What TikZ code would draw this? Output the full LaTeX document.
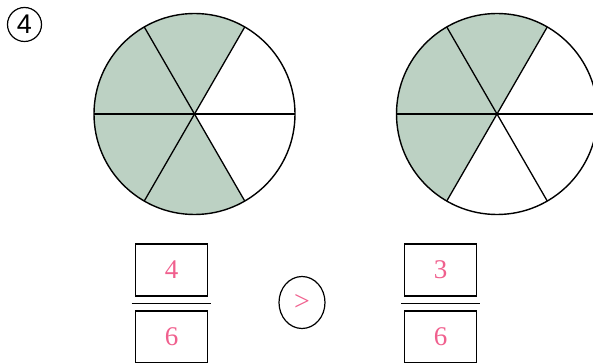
\documentclass[tikz,border=0pt]{standalone}
\usepackage{fontspec}
\setmainfont{Liberation Serif}
\newfontfamily\labelfont{Liberation Sans}
\usetikzlibrary{shapes.geometric}
\definecolor{pieshade}{HTML}{BCD1C3}
\definecolor{pinknum}{HTML}{F0608E}
\tikzset{
  x=1pt, y=-1pt,
  rim/.style={draw=black, line width=1.4pt},
  spoke/.style={draw=black, line width=1.3pt},
  numbox/.style={draw=black, line width=1.2pt, minimum width=72pt, minimum height=52pt, inner sep=0pt, text=pinknum, font=\fontsize{27}{27}\selectfont},
  barline/.style={draw=black, line width=1.5pt},
  cmp/.style={draw=black, line width=1.2pt, ellipse, minimum width=46pt, minimum height=52pt, inner sep=0pt, text=pinknum, font=\fontsize{28}{28}\selectfont},
}
\begin{document}
\begin{tikzpicture}
\useasboundingbox (0,0) rectangle (593,363);
% label
\node[circle, draw=black, line width=1.2pt, minimum size=34pt, inner sep=0pt, font=\labelfont\fontsize{27}{27}\selectfont] (lbl) at (24.5,24.5) {4};
% left pie (y axis points down: visual angle v is math angle -v)
\coordinate (lc) at (194.5,114);
\fill[pieshade] (lc) -- ++(-60:100.5) arc[start angle=-60, end angle=-300, radius=100.5] -- cycle;
\draw[rim] (lc) circle[radius=100.5];
\foreach \a in {0,60,...,300} \draw[spoke] (lc) -- ++(\a:100.5);
% right pie
\coordinate (rc) at (497,114);
\fill[pieshade] (rc) -- ++(-60:100.5) arc[start angle=-60, end angle=-240, radius=100.5] -- cycle;
\draw[rim] (rc) circle[radius=100.5];
\foreach \a in {0,60,...,300} \draw[spoke] (rc) -- ++(\a:100.5);
% left fraction
\node[numbox] (ln) at (171.5,270) {4};
\node[numbox] (ld) at (171.5,337) {6};
\coordinate (lb1) at (131.5,303.5);
\coordinate (lb2) at (211,303.5);
\draw[barline] (lb1) -- (lb2);
% compare
\node[cmp] (cp) at (302,302.5) {>};
% right fraction
\node[numbox] (rn) at (440.5,270) {3};
\node[numbox] (rd) at (440.5,337) {6};
\coordinate (rb1) at (401,303.5);
\coordinate (rb2) at (480,303.5);
\draw[barline] (rb1) -- (rb2);
\end{tikzpicture}
\end{document}
